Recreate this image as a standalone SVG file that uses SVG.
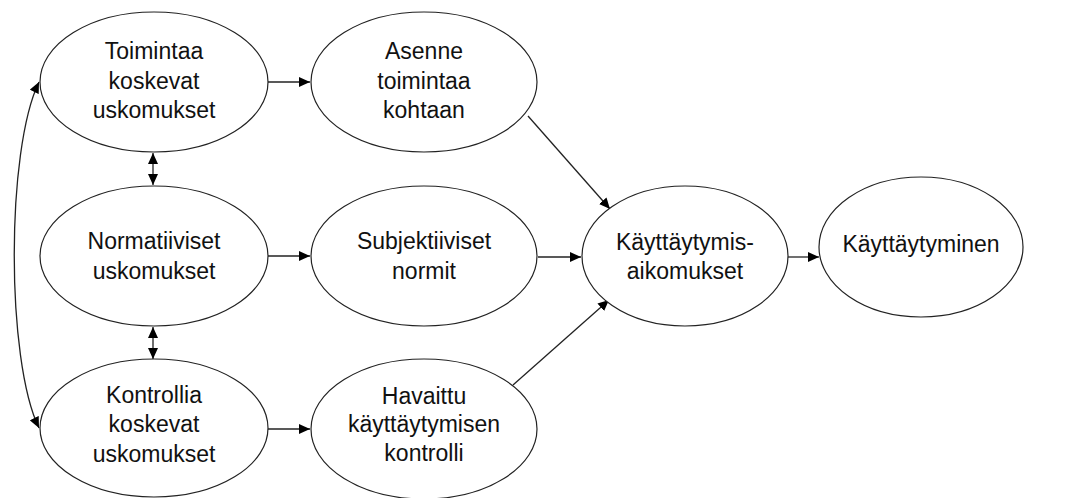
<svg xmlns="http://www.w3.org/2000/svg" width="1075" height="498" viewBox="0 0 1075 498">
<style>
.n{fill:#fff;stroke:#222;stroke-width:1.2}
.t{font-family:"Liberation Sans",Arial,sans-serif;font-size:23px;fill:#111;text-anchor:middle}
.c{fill:none;stroke:#222;stroke-width:1.3}
</style>
<defs>
<marker id="a" markerWidth="12" markerHeight="10" refX="11" refY="5" orient="auto" markerUnits="userSpaceOnUse">
<path d="M0,0 L11,5 L0,10 Z" fill="#000"/>
</marker>
<marker id="s" markerWidth="12" markerHeight="10" refX="1" refY="5" orient="auto" markerUnits="userSpaceOnUse">
<path d="M12,0 L1,5 L12,10 Z" fill="#000"/>
</marker>
</defs>
<rect width="1075" height="498" fill="#fff"/>
<g id="connectors">
<path class="c" d="M268,82 H310" marker-end="url(#a)"/>
<path class="c" d="M268,256 H310" marker-end="url(#a)"/>
<path class="c" d="M268,429 H310" marker-end="url(#a)"/>
<path class="c" d="M538,257 H581" marker-end="url(#a)"/>
<path class="c" d="M528,116 L610,209" marker-end="url(#a)"/>
<path class="c" d="M513,385 L609,300" marker-end="url(#a)"/>
<path class="c" d="M788,257 H819" marker-end="url(#a)"/>
<path class="c" d="M153,153 V185" marker-start="url(#s)" marker-end="url(#a)"/>
<path class="c" d="M153,327 V359" marker-start="url(#s)" marker-end="url(#a)"/>
<path class="c" d="M39,82 C6,150 6,360 39,428" marker-start="url(#s)" marker-end="url(#a)"/>
</g>
<g id="n1"><ellipse class="n" cx="154" cy="82" rx="114" ry="70"/>
<text class="t" x="154" y="59">Toimintaa</text><text class="t" x="154" y="89">koskevat</text><text class="t" x="154" y="118">uskomukset</text></g>
<g id="n2"><ellipse class="n" cx="424" cy="82" rx="113" ry="70"/>
<text class="t" x="424" y="59">Asenne</text><text class="t" x="424" y="89">toimintaa</text><text class="t" x="424" y="118">kohtaan</text></g>
<g id="n3"><ellipse class="n" cx="154" cy="256" rx="114" ry="70"/>
<text class="t" x="154" y="249">Normatiiviset</text><text class="t" x="154" y="279">uskomukset</text></g>
<g id="n4"><ellipse class="n" cx="424" cy="256" rx="113" ry="70"/>
<text class="t" x="424" y="249">Subjektiiviset</text><text class="t" x="424" y="279">normit</text></g>
<g id="n5"><ellipse class="n" cx="154" cy="428" rx="114" ry="69"/>
<text class="t" x="154" y="403">Kontrollia</text><text class="t" x="154" y="432">koskevat</text><text class="t" x="154" y="462">uskomukset</text></g>
<g id="n6"><ellipse class="n" cx="424" cy="429" rx="113" ry="70"/>
<text class="t" x="424" y="404">Havaittu</text><text class="t" x="424" y="432">käyttäytymisen</text><text class="t" x="424" y="461">kontrolli</text></g>
<g id="n7"><ellipse class="n" cx="685" cy="256" rx="103" ry="70"/>
<text class="t" x="685" y="250">Käyttäytymis-</text><text class="t" x="685" y="279">aikomukset</text></g>
<g id="n8"><ellipse class="n" cx="921" cy="247" rx="102" ry="70"/>
<text class="t" x="921" y="252">Käyttäytyminen</text></g>
</svg>
